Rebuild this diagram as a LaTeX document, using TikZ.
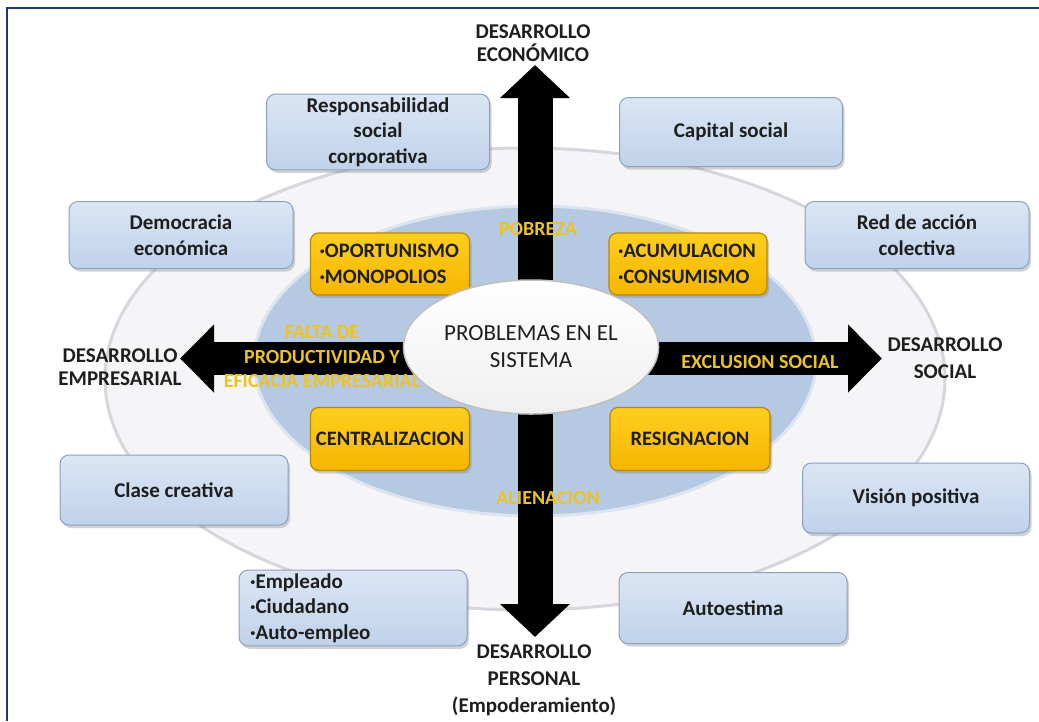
\documentclass[tikz,border=0pt]{standalone}
\usepackage{fontspec}
\setmainfont{Carlito}
\usetikzlibrary{shapes.geometric,arrows.meta,shadows}
\definecolor{frame}{RGB}{31,56,120}
\definecolor{outerfill}{RGB}{245,245,247}
\definecolor{outerline}{RGB}{214,214,220}
\definecolor{innerfill}{RGB}{182,201,226}
\definecolor{innerline}{RGB}{220,228,240}
\definecolor{bluetop}{RGB}{218,230,244}
\definecolor{bluebot}{RGB}{192,210,234}
\definecolor{boxline}{RGB}{140,160,190}
\definecolor{yeltop}{RGB}{255,206,30}
\definecolor{yelbot}{RGB}{245,182,0}
\definecolor{yelline}{RGB}{185,135,0}
\definecolor{gold}{RGB}{236,194,36}
\definecolor{ink}{RGB}{30,30,30}
\begin{document}
\begin{tikzpicture}[x=1pt,y=-1pt,
  txt/.style={font=\fontsize{21}{25.5}\selectfont\bfseries, text=ink, align=center},
  bluebox/.style={txt, draw=boxline, line width=1pt, rounded corners=9pt,
    top color=bluetop, bottom color=bluebot,
    drop shadow={shadow xshift=2pt, shadow yshift=-3pt, opacity=0.35}},
  yelbox/.style={font=\fontsize{20.5}{26}\selectfont\bfseries, text=ink,
    draw=yelline, line width=1.2pt, rounded corners=8pt,
    top color=yeltop, bottom color=yelbot,
    drop shadow={shadow xshift=2pt, shadow yshift=-3pt, opacity=0.35}},
  goldlbl/.style={font=\fontsize{20}{24.5}\selectfont\bfseries, text=gold, align=center},
  axislbl/.style={font=\fontsize{21}{25}\selectfont\bfseries, text=ink, align=center},
  vbar/.style={line width=35pt, black, -{Triangle[width=68pt,length=33pt]}},
  hbar/.style={line width=33pt, black, -{Triangle[width=66pt,length=34pt]}}
]
\useasboundingbox (0,0) rectangle (1039,721);
\fill[white] (0,0) rectangle (1039,721);
% frame
\draw[frame, line width=2pt] (7,721) -- (7,8) -- (1039,8);

% ellipses
\node[ellipse, draw=outerline, line width=3pt, fill=outerfill,
  minimum width=840pt, minimum height=462pt] (outer) at (525,379) {};
\node[ellipse, draw=innerline, line width=3pt, fill=innerfill,
  minimum width=562pt, minimum height=310pt] (inner) at (535,361) {};

% blue boxes
\node[bluebox, minimum width=223pt, minimum height=69pt] (rsc) at (378,132) {Responsabilidad\\social\\corporativa};
\node[bluebox, minimum width=223pt, minimum height=69pt] (cap) at (731,132) {Capital social};
\node[bluebox, minimum width=224pt, minimum height=67pt] (dem) at (181,235) {Democracia\\económica};
\node[bluebox, minimum width=224pt, minimum height=67pt] (red) at (917,235) {Red de acción\\colectiva};
\node[bluebox, minimum width=228pt, minimum height=70pt] (cla) at (174,490) {Clase creativa};
\node[bluebox, minimum width=227pt, minimum height=70pt] (vis) at (916,498) {Visión positiva};
\node[bluebox, minimum width=228pt, minimum height=71pt, text width=206pt, align=left, inner xsep=11pt] (emp) at (353,608) {·Empleado\\·Ciudadano\\·Auto-empleo};
\node[bluebox, minimum width=228pt, minimum height=71pt] (aut) at (733,608) {Autoestima};

% yellow boxes
\node[yelbox, minimum width=159pt, minimum height=62pt, text width=141pt, align=left, inner xsep=9pt] (opo) at (390,264) {·OPORTUNISMO\\·MONOPOLIOS};
\node[yelbox, minimum width=158pt, minimum height=62pt, text width=140pt, align=left, inner xsep=9pt] (acu) at (688,264) {·ACUMULACION\\·CONSUMISMO};
\node[yelbox, minimum width=159pt, minimum height=63pt, align=center] (cen) at (390,439) {CENTRALIZACION};
\node[yelbox, minimum width=160pt, minimum height=63pt, align=center] (res) at (690,439) {RESIGNACION};

% arrows
\coordinate (ctr) at (535,358.5);
\coordinate (upEnd) at (535,65);
\coordinate (downEnd) at (535,637);
\coordinate (leftEnd) at (180,358.5);
\coordinate (rightEnd) at (882,358.5);
\draw[vbar] (ctr) -- (upEnd);
\draw[vbar] (ctr) -- (downEnd);
\draw[hbar] (ctr) -- (leftEnd);
\draw[hbar] (ctr) -- (rightEnd);

% center ellipse
\node[ellipse, draw=black!25, line width=1.5pt, top color=white, bottom color=black!6,
  minimum width=252pt, minimum height=134pt, align=center,
  font=\fontsize{23}{27}\selectfont, text=ink] (prob) at (531,347) {PROBLEMAS EN EL\\SISTEMA};

% gold labels
\node[goldlbl] (pob) at (538,229) {POBREZA};
\node[goldlbl] (falta) at (322,357) {FALTA DE\\PRODUCTIVIDAD Y\\EFICACIA EMPRESARIAL};
\node[goldlbl] (excl) at (760,362) {EXCLUSION SOCIAL};
\node[goldlbl] (alien) at (548,498) {ALIENACION};

% axis labels
\node[axislbl, font=\fontsize{21}{23}\selectfont\bfseries] (econ) at (533,43) {DESARROLLO\\ECONÓMICO};
\node[axislbl, font=\fontsize{21}{23}\selectfont\bfseries] (empr) at (120,367) {DESARROLLO\\EMPRESARIAL};
\node[axislbl, font=\fontsize{21}{27}\selectfont\bfseries] (soc) at (945,358) {DESARROLLO\\SOCIAL};
\node[axislbl, font=\fontsize{21}{27}\selectfont\bfseries] (pers) at (534,680) {DESARROLLO\\PERSONAL\\(Empoderamiento)};
\end{tikzpicture}
\end{document}
